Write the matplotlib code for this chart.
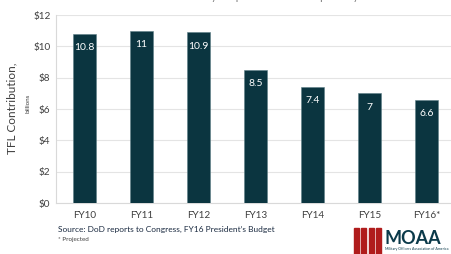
import matplotlib
matplotlib.use("Agg")
import matplotlib.pyplot as plt
from matplotlib.patches import Rectangle

categories = ["FY10", "FY11", "FY12", "FY13", "FY14", "FY15", "FY16*"]
values = [10.8, 11, 10.9, 8.5, 7.4, 7, 6.6]
value_labels = ["10.8", "11", "10.9", "8.5", "7.4", "7", "6.6"]
yticks = [0, 2, 4, 6, 8, 10, 12]
ytick_labels = ["$0", "$2", "$4", "$6", "$8", "$10", "$12"]

plt.rcParams['font.family'] = ['Lato', 'DejaVu Sans']

W, H = 452, 254
fig = plt.figure(figsize=(W/100, H/100), dpi=100)
fig.patch.set_facecolor("white")

ax = fig.add_axes([56/W, (H-203)/H, (455-56)/W, (203-15)/H])
bar_color = "#0b3540"
x = list(range(len(categories)))
bars = ax.bar(x, values, width=0.41, color=bar_color, edgecolor="#5d7f86", linewidth=0.4, zorder=3)
for xi, v, lab in zip(x, values, value_labels):
    ax.annotate(lab, (xi, v), xytext=(0, -10), textcoords="offset points",
                ha="center", va="center", color="white", fontsize=7.5, zorder=4)

ax.set_xlim(-0.5, len(categories) - 0.5)
ax.set_ylim(0, 12)
ax.set_yticks(yticks)
ax.set_yticklabels(ytick_labels)
ax.set_xticks(x)
ax.set_xticklabels(categories)
ax.tick_params(axis="both", length=0, labelsize=7.2, colors="#404040")
ax.tick_params(axis="x", pad=6)
ax.tick_params(axis="y", pad=4)
ax.grid(axis="y", color="#e4e4e4", linewidth=0.8, zorder=0)
for s in ["top", "right"]:
    ax.spines[s].set_visible(False)
ax.spines["left"].set_color("#d9d9d9")
ax.spines["bottom"].set_color("#d9d9d9")
ax.spines["left"].set_linewidth(0.8)
ax.spines["bottom"].set_linewidth(0.8)

fig.text(12/W, 1 - 108/H, "TFL Contribution,", rotation=90, ha="center", va="center",
         fontsize=8.5, color="#404040")
fig.text(28/W, 1 - 103/H, "billions", rotation=90, ha="center", va="center",
         fontsize=4.5, color="#404040")

fig.text(58/W, 1 - 229/H, "Source: DoD reports to Congress, FY16 President\u2019s Budget",
         ha="left", va="center", fontsize=6, color="#1a2a40")
fig.text(58/W, 1 - 239/H, "* Projected", ha="left", va="center", fontsize=4.5, color="#404040")

# clipped title at top
fig.text(175/W, 1 + 3/H, "fallen by 40 percent over the past 5 years.", ha="left", va="center",
         fontsize=8, color="#808080")

# MOAA logo
red = "#b01c1c"
for i in range(4):
    fig.patches.append(Rectangle(((354 + i*7.5)/W, (H-254)/H), 5/W, 26/H,
                                 transform=fig.transFigure, color=red, figure=fig))
fig.text(385/W, 1 - 238/H, "MOAA", ha="left", va="center", fontsize=13, fontweight="bold",
         color="#0b3a4a")
fig.text(385/W, 1 - 249/H, "Military Officers Association of America", ha="left", va="center",
         fontsize=2.6, color="#0b3a4a")

fig.savefig("out.png", dpi=100)
